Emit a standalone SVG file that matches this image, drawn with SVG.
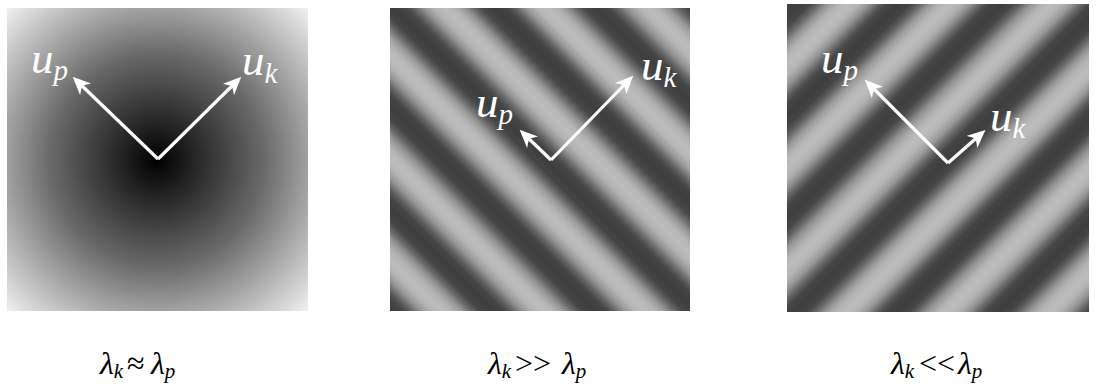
<svg xmlns="http://www.w3.org/2000/svg" width="1108" height="387" viewBox="0 0 1108 387">
<style>
.u{font-family:"Liberation Serif","Times New Roman",serif;font-style:italic;fill:#fff;font-size:45px}
.us{font-size:29px}
.lam{font-family:"Liberation Serif","Times New Roman",serif;font-size:32px;fill:#000}
.it{font-style:italic}
.sub{font-size:21px;font-style:italic}
.arr{stroke:#fff;stroke-width:3.2;fill:none;marker-end:url(#ah)}
</style>
<defs>
<marker id="ah" markerUnits="userSpaceOnUse" viewBox="0 0 18 16" markerWidth="18" markerHeight="16" refX="12" refY="8" orient="auto">
<path d="M18,8 L0,0 L5,8 L0,16 Z" fill="#fff"/>
</marker>
<radialGradient id="rad" gradientUnits="userSpaceOnUse" cx="157" cy="160" r="215">
<stop offset="0" stop-color="#000"/>
<stop offset="0.5" stop-color="#6a6a6a"/>
<stop offset="1" stop-color="#f2f2f2"/>
</radialGradient>
<linearGradient id="s1" gradientUnits="userSpaceOnUse" spreadMethod="repeat" x1="522.7" y1="188.3" x2="573.6" y2="137.4">
<stop offset="0" stop-color="#bdbdbd"/>
<stop offset="0.1" stop-color="#b4b4b4"/>
<stop offset="0.2" stop-color="#969696"/>
<stop offset="0.3" stop-color="#646464"/>
<stop offset="0.38" stop-color="#464646"/>
<stop offset="0.5" stop-color="#3e3e3e"/>
<stop offset="0.62" stop-color="#464646"/>
<stop offset="0.7" stop-color="#646464"/>
<stop offset="0.8" stop-color="#969696"/>
<stop offset="0.9" stop-color="#b4b4b4"/>
<stop offset="1" stop-color="#bdbdbd"/>
</linearGradient>
<linearGradient id="s2" gradientUnits="userSpaceOnUse" spreadMethod="repeat" x1="971.3" y1="186.3" x2="920.4" y2="135.4">
<stop offset="0" stop-color="#bdbdbd"/>
<stop offset="0.1" stop-color="#b4b4b4"/>
<stop offset="0.2" stop-color="#969696"/>
<stop offset="0.3" stop-color="#646464"/>
<stop offset="0.38" stop-color="#464646"/>
<stop offset="0.5" stop-color="#3e3e3e"/>
<stop offset="0.62" stop-color="#464646"/>
<stop offset="0.7" stop-color="#646464"/>
<stop offset="0.8" stop-color="#969696"/>
<stop offset="0.9" stop-color="#b4b4b4"/>
<stop offset="1" stop-color="#bdbdbd"/>
</linearGradient>
</defs>
<g id="panel-left">
<rect x="7" y="8" width="301" height="303" fill="url(#rad)"/>
<text class="u" x="31" y="73">u<tspan class="us" dy="7">p</tspan></text>
<text class="u" x="242" y="75">u<tspan class="us" dy="8">k</tspan></text>
</g>
<g id="panel-middle">
<rect x="390" y="8" width="300" height="303" fill="url(#s1)"/>
<text class="u" x="476" y="117">u<tspan class="us" dy="7">p</tspan></text>
<text class="u" x="641" y="80">u<tspan class="us" dy="7">k</tspan></text>
</g>
<g id="panel-right">
<rect x="787" y="4" width="302" height="308" fill="url(#s2)"/>
<text class="u" x="821" y="73">u<tspan class="us" dy="7">p</tspan></text>
<text class="u" x="990" y="131">u<tspan class="us" dy="7">k</tspan></text>
</g>
<g id="connectors">
<path class="arr" d="M158,159 L77,81"/>
<path class="arr" d="M158,159 L237,81"/>
<path class="arr" d="M551,160 L524,134"/>
<path class="arr" d="M551,160 L629,80"/>
<path class="arr" d="M948,163 L869,84"/>
<path class="arr" d="M948,163 L981,134"/>
</g>
<g id="caption-left">
<text class="lam" x="100" y="374"><tspan class="it">λ</tspan><tspan class="sub" dy="4">k</tspan><tspan dy="-4" x="127">≈</tspan><tspan class="it" x="151">λ</tspan><tspan class="sub" dy="4">p</tspan></text>
</g>
<g id="caption-middle">
<text class="lam" x="488" y="374"><tspan class="it">λ</tspan><tspan class="sub" dy="4">k</tspan><tspan dy="-4" x="515">&gt;&gt;</tspan><tspan class="it" x="562">λ</tspan><tspan class="sub" dy="4">p</tspan></text>
</g>
<g id="caption-right">
<text class="lam" x="891" y="374"><tspan class="it">λ</tspan><tspan class="sub" dy="4">k</tspan><tspan dy="-4" x="919">&lt;&lt;</tspan><tspan class="it" x="958">λ</tspan><tspan class="sub" dy="4">p</tspan></text>
</g>
</svg>
